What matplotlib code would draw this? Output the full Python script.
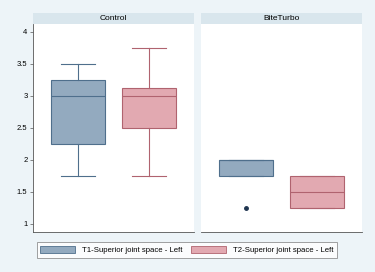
import matplotlib
matplotlib.use("Agg")
import matplotlib.pyplot as plt
from matplotlib.patches import Rectangle, Patch

plt.rcParams["font.family"] = ["Liberation Sans", "DejaVu Sans"]

# data: box statistics
groups = ["Control", "BiteTurbo"]
series = ["T1-Superior joint space - Left", "T2-Superior joint space - Left"]
q1 = [[2.25, 2.5], [1.75, 1.25]]
med = [[3.0, 3.0], [2.0, 1.5]]
q3 = [[3.25, 3.125], [2.0, 1.75]]
wlo = [[1.75, 1.75], [1.75, 1.25]]
whi = [[3.5, 3.75], [2.0, 1.75]]
outliers = [[[], []], [[1.25], []]]
yticks = [1, 1.5, 2, 2.5, 3, 3.5, 4]
ytick_labels = ["1", "1.5", "2", "2.5", "3", "3.5", "4"]

fills = ["#93aabf", "#e2a9b1"]
edges = ["#4f6f8c", "#b0636f"]
bg = "#edf4f8"

fig = plt.figure(figsize=(3.75, 2.72), dpi=100)
fig.patch.set_facecolor(bg)

W, H = 375, 272
panels = [(33, 194), (201, 362)]
top, bottom = 24, 232

for g, (x0, x1) in enumerate(panels):
    ax = fig.add_axes([x0 / W, 1 - bottom / H, (x1 - x0) / W, (bottom - top) / H])
    ax.set_facecolor("white")
    for s in range(2):
        st = dict(med=med[g][s], q1=q1[g][s], q3=q3[g][s],
                  whislo=wlo[g][s], whishi=whi[g][s], fliers=outliers[g][s])
        c = edges[s]
        ax.bxp([st], positions=[s + 1], widths=0.75, patch_artist=True,
               showcaps=True,
               boxprops=dict(facecolor=fills[s], edgecolor=c, linewidth=0.8),
               medianprops=dict(color=c, linewidth=0.8),
               whiskerprops=dict(color=c, linewidth=0.8),
               capprops=dict(color=c, linewidth=0.8),
               flierprops=dict(marker="o", markersize=2.5, markerfacecolor="#1f3550",
                               markeredgecolor="#1f3550"),
               capwidths=0.48)
    ax.set_xlim(0.364, 2.636)
    ax.set_ylim(0.875, 4.125)
    ax.set_xticks([])
    for sp in ["top", "right"]:
        ax.spines[sp].set_visible(False)
    ax.spines["bottom"].set_color("#555555")
    ax.spines["bottom"].set_linewidth(0.6)
    if g == 0:
        ax.spines["left"].set_color("#555555")
        ax.spines["left"].set_linewidth(0.6)
        ax.set_yticks(yticks)
        ax.set_yticklabels(ytick_labels, fontsize=5.5)
        ax.tick_params(axis="y", length=2.5, width=0.5, pad=1.5, color="#555555")
    else:
        ax.spines["left"].set_visible(False)
        ax.set_yticks([])
    # strip header
    sh = 11 / (bottom - top)
    ax.add_patch(Rectangle((0, 1), 1, sh, transform=ax.transAxes,
                           facecolor="#d9e6ed", edgecolor="none", clip_on=False))
    ax.text(0.5, 1 + sh / 2, groups[g], transform=ax.transAxes,
            ha="center", va="center", fontsize=6)

handles = [Patch(facecolor=fills[s], edgecolor=edges[s], linewidth=0.6) for s in range(2)]
leg = fig.legend(handles, series, ncol=2, fontsize=5.6,
                 bbox_to_anchor=(33 / W, 1 - 258 / H, 308 / W, 16 / H),
                 loc="center", mode="expand", frameon=True, fancybox=False,
                 handlelength=4.5, handleheight=1.0, borderpad=0.45,
                 columnspacing=2.5, handletextpad=0.9)
leg.get_frame().set_edgecolor("#777777")
leg.get_frame().set_linewidth(0.6)
leg.get_frame().set_facecolor("white")

fig.savefig("out.png", dpi=100, facecolor=bg)
